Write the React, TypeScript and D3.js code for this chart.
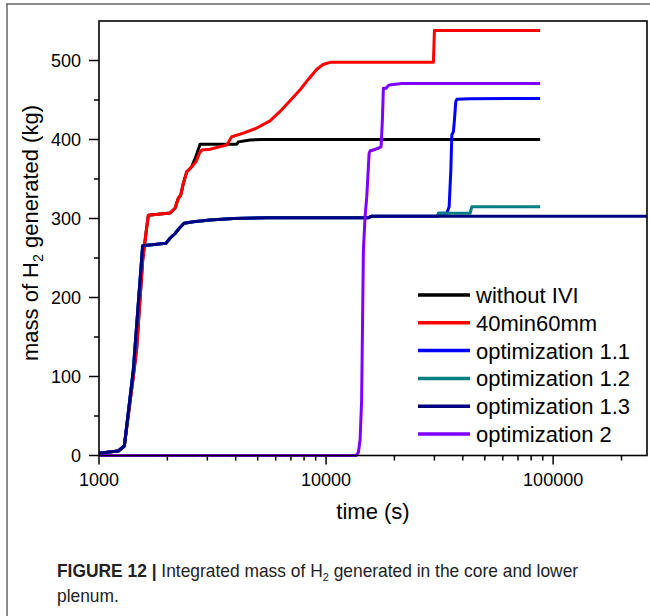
import React from 'react';
import * as d3 from 'd3';

type Pt = [number, number];

const seriesNames = ['without IVI', '40min60mm', 'optimization 1.1', 'optimization 1.2', 'optimization 1.3', 'optimization 2'];
const seriesColors = ['#000000', '#ff0000', '#0000ff', '#008080', '#000080', '#8000ff'];

const withoutIVI: Pt[] = [
  [1000, 3], [1216, 5.7], [1293, 12], [1416, 100], [1466, 136], [1557, 247], [1611, 282], [1649, 304],
  [2055, 307], [2162, 313], [2235, 325.6], [2291, 329.7], [2352, 344.5], [2434, 359], [2561, 365.6],
  [2667, 378], [2786, 394], [4044, 394], [4110, 397], [4626, 399.4], [5200, 400], [87640, 400],
];
const min40mm60: Pt[] = [
  [1000, 3], [1216, 5.7], [1293, 12], [1416, 100], [1466, 136], [1557, 247], [1611, 282], [1649, 304],
  [2055, 307], [2162, 313], [2235, 325.6], [2291, 329.7], [2352, 344.5], [2434, 359], [2561, 365.6],
  [2675, 372], [2766, 382.5], [2834, 386.7], [3083, 387.6], [3412, 391], [3652, 393], [3842, 403.5],
  [4322, 408], [4951, 414.5], [5666, 423.5], [6272, 435.5], [6940, 449], [7683, 463], [8400, 477],
  [9101, 489], [9700, 495], [10410, 497.7], [29700, 497.7], [30000, 538], [87640, 538],
];
const opt11: Pt[] = [
  [1000, 3], [1216, 5.7], [1293, 12], [1416, 108], [1557, 265.6], [1973, 268.6], [2055, 275], [2162, 281],
  [2258, 287.6], [2368, 294], [2603, 296], [3083, 298], [3905, 300], [5480, 301], [15360, 301], [15900, 303],
  [31000, 303], [31240, 306.5], [34010, 306.5], [34830, 315], [35430, 361], [35790, 405.7], [36380, 410],
  [36750, 424.7], [37270, 448], [37650, 451], [43090, 451.6], [87640, 452],
];
const opt12: Pt[] = [
  [1000, 3], [1216, 5.7], [1293, 12], [1416, 108], [1557, 265.6], [1973, 268.6], [2055, 275], [2162, 281],
  [2258, 287.6], [2368, 294], [2603, 296], [3083, 298], [3905, 300], [5480, 301], [15360, 301], [15900, 303],
  [31000, 303], [31240, 306.5], [43090, 306.5], [43850, 315], [87640, 315],
];
const opt13: Pt[] = [
  [1000, 3], [1216, 5.7], [1293, 12], [1416, 108], [1557, 265.6], [1973, 268.6], [2055, 275], [2162, 281],
  [2258, 287.6], [2368, 294], [2603, 296], [3083, 298], [3905, 300], [5480, 301], [15360, 301], [15900, 303],
  [259000, 303],
];
const opt2: Pt[] = [
  [1000, 0], [13560, 0], [13880, 4], [14120, 20], [14340, 70], [14600, 260], [14850, 302], [15110, 327.6],
  [15470, 382.5], [15620, 385.4], [17000, 388.9], [17470, 391], [17700, 424.7], [17880, 464.8], [18380, 464.8],
  [18620, 466.8], [19000, 469], [21560, 471], [87640, 471],
];
const seriesData = [withoutIVI, min40mm60, opt11, opt12, opt13, opt2];

const xMajorTicks = [1000, 10000, 100000];
const xTickLabels = ['1000', '10000', '100000'];
const yMajorTicks = [0, 100, 200, 300, 400, 500];
const yTickLabels = ['0', '100', '200', '300', '400', '500'];
const xDomain = [1000, 259000];
const yDomain = [0, 550];

const FONT = "'Liberation Sans', Arial, Helvetica, sans-serif";

export default function App() {
  const W = 650, H = 616;
  const left = 99, right = 647, top = 21, bottom = 455.5;
  const x = d3.scaleLog().domain(xDomain).range([left, right]);
  const y = d3.scaleLinear().domain(yDomain).range([bottom, top]);
  const line = d3.line<Pt>().x(d => x(d[0])).y(d => y(d[1]));

  const xMinor: number[] = [];
  for (let dec = 1000; dec <= 100000; dec *= 10) {
    for (let m = 2; m <= 9; m++) {
      const v = dec * m;
      if (v <= xDomain[1]) xMinor.push(v);
    }
  }
  const yMinor = d3.range(50, 550, 100);

  const legendX0 = 418, legendX1 = 470, legendY0 = 295, legendDy = 27.8;

  return (
    <svg width={W} height={H} style={{ position: 'absolute', left: 0, top: 0, background: '#fff' }}>
      <rect x={0} y={0} width={W} height={H} fill="#fff" />
      {/* outer card frame */}
      <line x1={6} x2={W} y1={4} y2={4} stroke="#666" strokeWidth={1.5} />
      <line x1={7} x2={7} y1={4} y2={H} stroke="#666" strokeWidth={1.5} />

      {/* series */}
      {seriesData.map((d, i) => (
        <path key={i} d={line(d) || ''} fill="none" stroke={seriesColors[i]} strokeWidth={3} strokeLinejoin="round" />
      ))}

      {/* plot frame */}
      <rect x={left} y={top} width={right - left} height={bottom - top} fill="none" stroke="#000" strokeWidth={1.6} />

      {/* x ticks */}
      {xMajorTicks.map((t, i) => (
        <g key={'xm' + i}>
          <line x1={x(t)} x2={x(t)} y1={bottom} y2={bottom + 9} stroke="#000" strokeWidth={1.5} />
          <text x={x(t)} y={485.5} textAnchor="middle" fontFamily={FONT} fontSize={18}>{xTickLabels[i]}</text>
        </g>
      ))}
      {xMinor.map((t, i) => (
        <line key={'xn' + i} x1={x(t)} x2={x(t)} y1={bottom} y2={bottom + 5} stroke="#000" strokeWidth={1.5} />
      ))}

      {/* y ticks */}
      {yMajorTicks.map((v, i) => (
        <g key={'ym' + i}>
          <line x1={left - 10} x2={left} y1={y(v)} y2={y(v)} stroke="#000" strokeWidth={1.5} />
          <text x={81} y={y(v)} dy="0.36em" textAnchor="end" fontFamily={FONT} fontSize={18}>{yTickLabels[i]}</text>
        </g>
      ))}
      {yMinor.map((v, i) => (
        <line key={'yn' + i} x1={left - 5} x2={left} y1={y(v)} y2={y(v)} stroke="#000" strokeWidth={1.5} />
      ))}

      {/* axis titles */}
      <text x={(left + right) / 2} y={519} textAnchor="middle" fontFamily={FONT} fontSize={22}>time (s)</text>
      <text transform="translate(38,233) rotate(-90)" textAnchor="middle" fontFamily={FONT} fontSize={22}>
        mass of H<tspan fontSize={14} dy={5}>2</tspan><tspan dy={-5}> generated (kg)</tspan>
      </text>

      {/* legend */}
      {seriesNames.map((n, i) => (
        <g key={'lg' + i}>
          <line x1={legendX0} x2={legendX1} y1={legendY0 + i * legendDy} y2={legendY0 + i * legendDy} stroke={seriesColors[i]} strokeWidth={3.5} />
          <text x={476} y={legendY0 + i * legendDy} dy="0.36em" fontFamily={FONT} fontSize={22}>{n}</text>
        </g>
      ))}

      {/* caption */}
      <g transform="translate(57,577) scale(1,1.07)">
        <text x={0} y={0} fontFamily={FONT} fontSize={17.4} fill="#222">
          <tspan fontWeight="bold">FIGURE 12 | </tspan>
          <tspan>Integrated mass of H</tspan><tspan fontSize={11} dy={4}>2</tspan><tspan dy={-4}> generated in the core and lower</tspan>
        </text>
      </g>
      <g transform="translate(57,602) scale(1,1.07)">
        <text x={0} y={0} fontFamily={FONT} fontSize={17.4} fill="#222">plenum.</text>
      </g>
    </svg>
  );
}
